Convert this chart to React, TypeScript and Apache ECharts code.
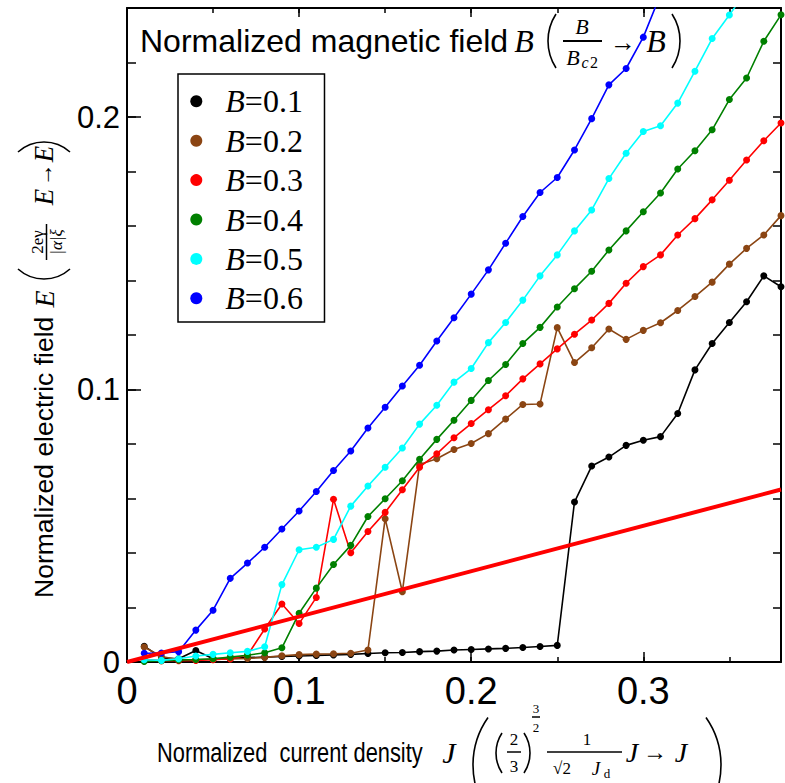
import React, { useEffect, useRef } from "react";
import * as echarts from "echarts";

// ---- data ----
const J = [
  0.01, 0.02, 0.03, 0.04, 0.05, 0.06, 0.07, 0.08, 0.09, 0.1,
  0.11, 0.12, 0.13, 0.14, 0.15, 0.16, 0.17, 0.18, 0.19, 0.2,
  0.21, 0.22, 0.23, 0.24, 0.25, 0.26, 0.27, 0.28, 0.29, 0.3,
  0.31, 0.32, 0.33, 0.34, 0.35, 0.36, 0.37, 0.38,
];

const E_B01 = [
  0.0058, 0.0015, 0.0012, 0.0042, 0.0012, 0.0014, 0.0016, 0.0018, 0.002, 0.0022,
  0.0024, 0.0026, 0.0028, 0.0031, 0.0034, 0.0035, 0.0038, 0.004, 0.0044, 0.0046,
  0.0048, 0.005, 0.0053, 0.0057, 0.0061, 0.0587, 0.0719, 0.0752, 0.0795, 0.0814,
  0.0827, 0.0912, 0.1072, 0.1169, 0.1246, 0.1322, 0.1417, 0.1377,
];
const E_B02 = [
  0.0055, 0.002, 0.0008, 0.0008, 0.001, 0.0011, 0.0013, 0.0017, 0.0023, 0.0027,
  0.0029, 0.003, 0.0032, 0.0044, 0.0526, 0.0258, 0.0725, 0.0746, 0.078, 0.0802,
  0.0838, 0.0892, 0.0945, 0.0947, 0.1227, 0.1099, 0.1153, 0.1222, 0.1184, 0.1217,
  0.1245, 0.129, 0.1341, 0.1394, 0.146, 0.1518, 0.1567, 0.1638,
];
const E_B03 = [
  0.0008, 0.0005, 0.0005, 0.0006, 0.0008, 0.0012, 0.0025, 0.0121, 0.0213, 0.0141,
  0.0237, 0.0597, 0.0401, 0.0479, 0.0549, 0.0632, 0.0715, 0.0764, 0.0823, 0.0875,
  0.0926, 0.0977, 0.1039, 0.1094, 0.1149, 0.1203, 0.1255, 0.1316, 0.139, 0.1451,
  0.1494, 0.1567, 0.1627, 0.1696, 0.1768, 0.1842, 0.1913, 0.1978,
];
const E_B04 = [
  0.0002, 0.0005, 0.0007, 0.0009, 0.0012, 0.0018, 0.0025, 0.0034, 0.0052, 0.0179,
  0.0271, 0.0358, 0.0428, 0.0534, 0.0599, 0.0665, 0.0744, 0.0817, 0.0887, 0.096,
  0.1033, 0.1092, 0.1169, 0.1228, 0.1303, 0.137, 0.1434, 0.1512, 0.1582, 0.1652,
  0.1721, 0.1809, 0.1876, 0.1953, 0.2064, 0.2143, 0.2278, 0.2375,
];
const E_B05 = [
  0.0008, 0.0006, 0.0012, 0.0022, 0.0028, 0.0034, 0.0039, 0.0056, 0.0284, 0.0412,
  0.0421, 0.045, 0.0572, 0.0646, 0.0715, 0.0785, 0.0873, 0.0942, 0.1027, 0.1077,
  0.1172, 0.1246, 0.1328, 0.1417, 0.1494, 0.1582, 0.1659, 0.1774, 0.1867, 0.1947,
  0.1968, 0.2051, 0.2168, 0.2288, 0.2374, 0.2465,
];
const E_B06 = [
  0.0032, 0.0033, 0.0038, 0.0117, 0.019, 0.0307, 0.0363, 0.0421, 0.0488, 0.0554,
  0.0626, 0.0703, 0.0774, 0.0859, 0.0935, 0.1013, 0.1089, 0.1178, 0.1263, 0.135,
  0.1439, 0.1537, 0.1635, 0.1723, 0.1778, 0.1879, 0.1994, 0.2118, 0.2178, 0.2293,
  0.245,
];

const FIT_J = [0, 0.38];
const FIT_E = [0, 0.0633];

const SERIES_NAMES = ["B=0.1", "B=0.2", "B=0.3", "B=0.4", "B=0.5", "B=0.6"];
const SERIES_VALUES = [E_B01, E_B02, E_B03, E_B04, E_B05, E_B06];
const SERIES_COLORS = ["#000000", "#8B4513", "#FF0000", "#008000", "#00FFFF", "#0000FF"];

const X_MIN = 0;
const X_MAX = 0.38;
const Y_MIN = 0;
const Y_MAX = 0.24;

const SANS = '"Liberation Sans", Arial, sans-serif';
const SERIF = '"Liberation Serif", "Times New Roman", serif';

// ---- graphic helpers ----
function txt(
  text: string,
  x: number,
  y: number,
  size: number,
  opts: any = {}
) {
  const align = opts.align || "center";
  return {
    type: "text",
    x,
    y,
    rotation: opts.rotation || 0,
    scaleX: opts.scaleX || 1,
    scaleY: opts.scaleY || 1,
    silent: true,
    style: {
      text,
      fontSize: size,
      fontFamily: opts.family || SERIF,
      fontStyle: opts.italic ? "italic" : "normal",
      fill: "#000",
      textAlign: align,
      align,
      textVerticalAlign: "middle",
      verticalAlign: "middle",
    },
  };
}

function hline(x1: number, x2: number, y: number, w = 1.5) {
  return {
    type: "line",
    silent: true,
    shape: { x1, y1: y, x2, y2: y },
    style: { stroke: "#000", lineWidth: w },
  };
}
function vline(x: number, y1: number, y2: number, w = 1.5) {
  return {
    type: "line",
    silent: true,
    shape: { x1: x, y1, x2: x, y2 },
    style: { stroke: "#000", lineWidth: w },
  };
}

// paren as an arc; side: 'l' | 'r' | 'b' (bottom, rotated) | 't'
function paren(side: string, ext: number, mid: number, h: number, s: number, w = 1.6) {
  const r = (h * h) / 4 / (2 * s) + s / 2;
  const a = Math.asin(h / 2 / r);
  let cx = 0, cy = 0, st = 0, en = 0;
  if (side === "l") { cx = ext + r; cy = mid; st = Math.PI - a; en = Math.PI + a; }
  if (side === "r") { cx = ext - r; cy = mid; st = -a; en = a; }
  if (side === "b") { cx = mid; cy = ext - r; st = Math.PI / 2 - a; en = Math.PI / 2 + a; }
  if (side === "t") { cx = mid; cy = ext + r; st = (3 * Math.PI) / 2 - a; en = (3 * Math.PI) / 2 + a; }
  return {
    type: "arc",
    silent: true,
    shape: { cx, cy, r, startAngle: st, endAngle: en, clockwise: true },
    style: { stroke: "#000", lineWidth: w, fill: "none" },
  };
}

const ROT = Math.PI / 2;

function buildGraphics() {
  const g: any[] = [];
  // ---- title inside plot ----
  g.push(txt("Normalized magnetic field", 140, 41, 32, { family: SANS, align: "left" }));
  g.push(txt("B", 524, 41, 32, { italic: true }));
  g.push(paren("l", 548, 41, 54, 8));
  g.push(txt("B", 582, 26, 22, { italic: true }));
  g.push(hline(563, 602, 41, 2));
  g.push(txt("B", 573, 57, 22, { italic: true }));
  g.push(txt("c", 585, 62, 16, { italic: true }));
  g.push(txt("2", 594, 62, 16));
  g.push(txt("→", 623, 42, 26));
  g.push(txt("B", 656, 41, 32, { italic: true }));
  g.push(paren("r", 680, 41, 54, 8));

  // ---- x axis title ----
  g.push(txt("Normalized  current density", 157, 752, 28, { family: SANS, align: "left", scaleX: 0.78 }));
  g.push(txt("J", 449, 752, 30, { italic: true }));
  g.push(paren("l", 473, 765, 95, 15));
  g.push(paren("l", 496, 753, 40, 6));
  g.push(txt("2", 514, 739, 17));
  g.push(hline(507, 521, 752, 1.5));
  g.push(txt("3", 514, 766, 17));
  g.push(paren("r", 530, 753, 40, 6));
  g.push(txt("3", 536, 708, 13));
  g.push(hline(532, 540, 717, 1.5));
  g.push(txt("2", 536, 727, 13));
  g.push(txt("1", 587, 739, 17));
  g.push(hline(547, 622, 752, 1.5));
  g.push(txt("√2", 562, 768, 17));
  g.push(txt("J", 596, 768, 19, { italic: true }));
  g.push(txt("d", 607, 773, 13));
  g.push(txt("J", 632, 752, 28, { italic: true }));
  g.push(txt("→", 655, 752, 24));
  g.push(txt("J", 681, 752, 28, { italic: true }));
  g.push(paren("r", 721, 765, 95, 15));

  // ---- y axis title (rotated, reads bottom to top) ----
  g.push(txt("Normalized electric field", 44, 598, 26.5, { family: SANS, align: "left", rotation: ROT }));
  g.push(txt("E", 44, 299, 28, { italic: true, rotation: ROT }));
  g.push(paren("b", 279, 44, 52, 10));
  g.push(txt("2eγ", 37, 242, 17, { rotation: ROT }));
  g.push(vline(46.5, 224, 260, 1.5));
  g.push(txt("|α|ξ", 56, 242, 17, { italic: true, rotation: ROT }));
  g.push(txt("E", 44, 197, 27, { italic: true, rotation: ROT }));
  g.push(txt("→", 44, 175, 23, { rotation: ROT }));
  g.push(txt("E", 44, 154, 27, { italic: true, rotation: ROT }));
  g.push(paren("t", 142, 44, 52, 10));
  return g;
}

function buildOption() {
  const axisLineStyle = { color: "#000", width: 2 };
  const tickStyle = { color: "#000", width: 1.5 };
  const baseX = { type: "value", min: X_MIN, max: X_MAX, splitLine: { show: false } };
  const baseY = { type: "value", min: Y_MIN, max: Y_MAX, splitLine: { show: false } };

  const xAxis = [
    {
      ...baseX,
      position: "bottom",
      interval: 0.1,
      axisLine: { show: true, onZero: false, lineStyle: axisLineStyle },
      axisTick: { show: true, inside: true, length: 10, lineStyle: tickStyle },
      axisLabel: {
        show: true,
        showMaxLabel: false,
        margin: 10,
        fontSize: 38,
        fontFamily: SANS,
        color: "#000",
        formatter: (v: number) => (v === 0 ? "0" : String(Math.round(v * 10) / 10)),
      },
    },
    {
      ...baseX,
      position: "bottom",
      interval: 0.05,
      axisLine: { show: false, onZero: false },
      axisTick: { show: true, inside: true, length: 5, lineStyle: tickStyle },
      axisLabel: { show: false },
    },
    {
      ...baseX,
      position: "top",
      interval: 0.1,
      axisLine: { show: true, onZero: false, lineStyle: axisLineStyle },
      axisTick: { show: true, inside: true, length: 9, lineStyle: tickStyle },
      axisLabel: { show: false },
    },
    {
      ...baseX,
      position: "top",
      interval: 0.05,
      axisLine: { show: false, onZero: false },
      axisTick: { show: true, inside: true, length: 5, lineStyle: tickStyle },
      axisLabel: { show: false },
    },
  ];

  const yAxis = [
    {
      ...baseY,
      position: "left",
      interval: 0.1,
      axisLine: { show: true, onZero: false, lineStyle: axisLineStyle },
      axisTick: { show: true, inside: true, length: 14, lineStyle: tickStyle },
      axisLabel: {
        show: true,
        showMaxLabel: false,
        margin: 7,
        fontSize: 31,
        fontFamily: SANS,
        color: "#000",
        formatter: (v: number) => (v === 0 ? "0" : String(Math.round(v * 10) / 10)),
      },
    },
    {
      ...baseY,
      position: "left",
      interval: 0.02,
      axisLine: { show: false, onZero: false },
      axisTick: { show: true, inside: true, length: 9, lineStyle: tickStyle },
      axisLabel: { show: false },
    },
    {
      ...baseY,
      position: "right",
      interval: 0.02,
      axisLine: { show: true, onZero: false, lineStyle: axisLineStyle },
      axisTick: { show: true, inside: true, length: 8, lineStyle: tickStyle },
      axisLabel: { show: false },
    },
  ];

  const series: any[] = SERIES_NAMES.map((name, i) => ({
    name,
    type: "line",
    xAxisIndex: 0,
    yAxisIndex: 0,
    data: SERIES_VALUES[i].map((v, k) => [J[k], v]),
    symbol: "circle",
    symbolSize: 7,
    showAllSymbol: true,
    clip: true,
    color: SERIES_COLORS[i],
    lineStyle: { color: SERIES_COLORS[i], width: 1.6 },
    itemStyle: { color: SERIES_COLORS[i] },
    emphasis: { disabled: true },
    z: 2 + i,
  }));

  series.push({
    name: "fit",
    type: "line",
    xAxisIndex: 0,
    yAxisIndex: 0,
    data: FIT_J.map((x, k) => [x, FIT_E[k]]),
    showSymbol: false,
    symbol: "none",
    lineStyle: { color: "#FF0000", width: 4 },
    color: "#FF0000",
    emphasis: { disabled: true },
    z: 10,
  });

  return {
    animation: false,
    backgroundColor: "#ffffff",
    grid: { left: 127, right: 4, top: 8, bottom: 121, containLabel: false },
    xAxis,
    yAxis,
    legend: {
      data: SERIES_NAMES,
      orient: "vertical",
      left: 178,
      top: 74,
      selectedMode: false,
      icon: "circle",
      itemWidth: 12,
      itemHeight: 12,
      itemGap: 7.4,
      padding: [11.3, 21.6, 7.7, 12.3],
      borderColor: "#000",
      borderWidth: 1.5,
      backgroundColor: "#ffffff",
      formatter: (name: string) => `{i|B}{n|${name.slice(1)}}`,
      textStyle: {
        color: "#000",
        fontSize: 32,
        fontFamily: SERIF,
        lineHeight: 30,
        padding: [0, 0, 0, 18],
        rich: {
          i: { fontSize: 32, fontFamily: SERIF, fontStyle: "italic", color: "#000", lineHeight: 30 },
          n: { fontSize: 32, fontFamily: SERIF, color: "#000", lineHeight: 30 },
        },
      },
      z: 20,
    },
    graphic: { elements: buildGraphics() },
    series,
  };
}

export default function App() {
  const ref = useRef<HTMLDivElement | null>(null);
  useEffect(() => {
    if (!ref.current) return;
    const chart = echarts.init(ref.current, undefined, { renderer: "svg" });
    chart.setOption(buildOption() as any);
    return () => chart.dispose();
  }, []);
  return (
    <div
      ref={ref}
      style={{ position: "fixed", left: 0, top: 0, width: 785, height: 783, background: "#fff" }}
    />
  );
}
